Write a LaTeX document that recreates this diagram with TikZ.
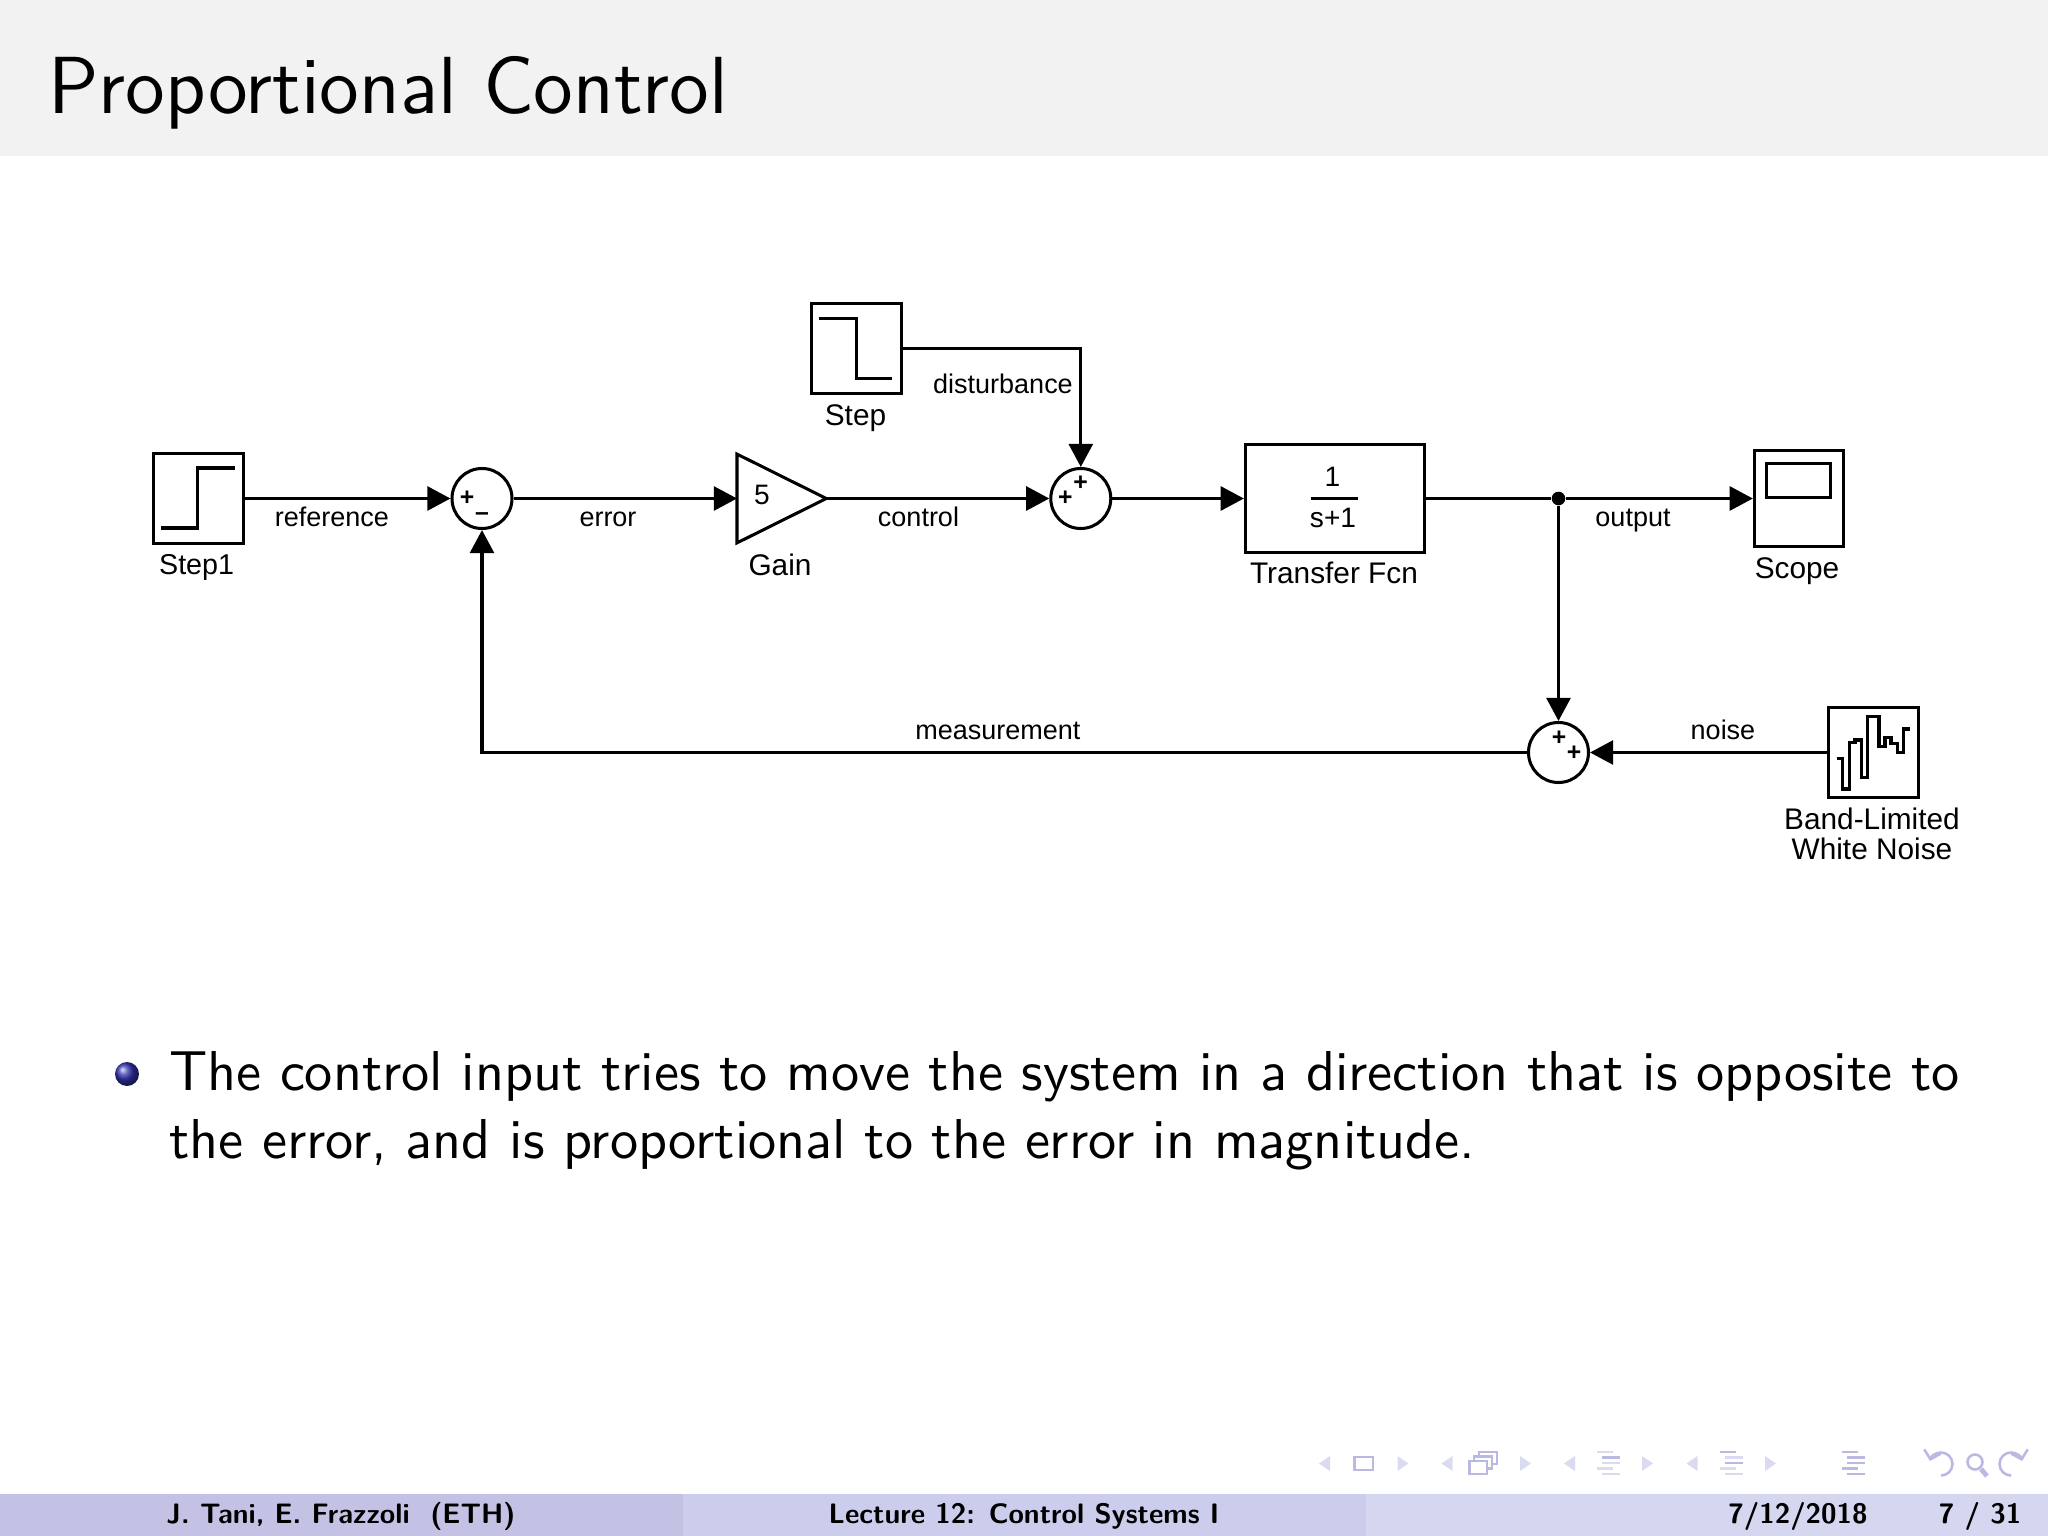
\documentclass[tikz,border=0pt]{standalone}
\usepackage{fontspec}
\usetikzlibrary{arrows.meta,shapes.geometric}
\newfontfamily\blockfont{Liberation Sans}
\definecolor{headgray}{HTML}{F2F2F2}
\definecolor{foota}{HTML}{C3C2E4}
\definecolor{footb}{HTML}{CCCCEC}
\definecolor{footc}{HTML}{D5D6F0}
\definecolor{navlite}{HTML}{DADAF0}
\definecolor{navdark}{HTML}{B9B9E1}
\definecolor{ballblue}{HTML}{3333B2}
\tikzset{
  block/.style={draw,line width=0.19mm,inner sep=0pt,minimum width=5.6mm,minimum height=5.6mm},
  sumnode/.style={draw,circle,line width=0.19mm,inner sep=0pt,minimum size=3.75mm},
  sig/.style={line width=0.19mm},
  sigarrow/.style={sig,-{Triangle[length=1.45mm,width=1.5mm]}},
  lbl/.style={anchor=base,inner sep=0pt,font=\blockfont\fontsize{5.3}{6}\selectfont},
  wirelbl/.style={anchor=base,inner sep=0pt,font=\blockfont\fontsize{4.8}{6}\selectfont},
  sign/.style={inner sep=0pt,font=\blockfont\bfseries\fontsize{4.4}{5}\selectfont},
  footlbl/.style={anchor=base,inner sep=0pt,font=\sffamily\bfseries\fontsize{5}{6}\selectfont},
  navbar/.style={line width=0.16mm},
  navarrow/.style={navbar,-{Straight Barb[length=0.5mm,width=1.05mm]}}
}
\newcommand{\navbars}[6]{%
  \fill[#2] (#1,1450.5) rectangle ++(16,2.6);
  \fill[#3] (#1+5,1456) rectangle ++(18,2.6);
  \fill[#4] (#1+5,1461.5) rectangle ++(18,2.6);
  \fill[#5] (#1,1467) rectangle ++(16,2.6);
  \fill[#6] (#1+5,1472.5) rectangle ++(18,2.6);
}
\begin{document}
\begin{tikzpicture}[x=0.0625mm,y=-0.0625mm]
  \useasboundingbox (0,0) rectangle (2048,1536);
  % slide frame
  \fill[headgray] (0,0) rectangle (2048,156);
  \fill[foota] (0,1494) rectangle (683,1536);
  \fill[footb] (683,1494) rectangle (1366,1536);
  \fill[footc] (1366,1494) rectangle (2048,1536);
  \node[anchor=base west,inner sep=0pt,font=\sffamily\fontsize{14.4}{16}\selectfont] (title) at (47,113) {Proportional Control};
  % blocks
  \node[block] (stepone) at (198.3,498.5) {};
  \node[sumnode] (sumone) at (482,498.5) {};
  \node[draw,isosceles triangle,isosceles triangle stretches,anchor=west,line width=0.19mm,inner sep=0pt,outer sep=0pt,
    minimum width=5.55mm,minimum height=5.58mm] (gain) at (737,498.5) {};
  \node[block] (step) at (856.3,348.5) {};
  \node[sumnode] (sumtwo) at (1080.8,498.5) {};
  \node[block,minimum width=11.2mm,minimum height=6.75mm] (tf) at (1335,498.5) {};
  \node[block,minimum width=5.58mm,minimum height=6mm] (scope) at (1799,498.5) {};
  \node[draw,line width=0.19mm,inner sep=0pt,minimum width=4mm,minimum height=2.1mm] (screen) at (1798.7,480.3) {};
  \node[sumnode] (sumthree) at (1558.5,752.5) {};
  \node[block] (noise) at (1873.5,752.5) {};
  \node[circle,fill,inner sep=0pt,minimum size=0.85mm] (junction) at (1558.5,498.5) {};
  % icons inside the sources
  \draw[sig] (160.8,528) -- (197.5,528) -- (197.5,468) -- (234.7,468);
  \draw[sig] (818.7,318.3) -- (856.7,318.3) -- (856.7,378.3) -- (892.3,378.3);
  \draw[sig] (1836.7,758.3) -- (1842.7,758.3) -- (1842.7,789) -- (1849.3,789) -- (1849.3,742.7) -- (1855,742.7)
    -- (1855,740) -- (1861.7,740) -- (1861.7,777.3) -- (1867.7,777.3) -- (1867.7,716.7) -- (1879,716.7)
    -- (1879,746.7) -- (1885,746.7) -- (1885,737.7) -- (1891,737.7) -- (1891,743.3) -- (1897.3,743.3)
    -- (1897.3,752.7) -- (1903.3,752.7) -- (1903.3,729) -- (1910,729);
  \node[sign] (plusa) at (467,498.3) {+};
  \node[sign] (minusa) at (482,517) {\textendash};
  \node[sign] (plusb) at (1080.7,483.3) {+};
  \node[sign] (plusc) at (1065.3,498.3) {+};
  \node[sign] (plusd) at (1559,738) {+};
  \node[sign] (pluse) at (1574,753) {+};
  \node[anchor=base,inner sep=0pt,font=\blockfont\fontsize{5}{6}\selectfont] (gainval) at (762,504) {5};
  \node[anchor=base,inner sep=0pt,font=\blockfont\fontsize{5}{6}\selectfont] (tfnum) at (1332.5,486) {1};
  \draw[sig] (1311,498.5) -- (1358,498.5);
  \node[anchor=base,inner sep=0pt,font=\blockfont\fontsize{5}{6}\selectfont] (tfden) at (1333,527) {s+1};
  % connectors
  \draw[sigarrow] (stepone) -- (sumone);
  \draw[sigarrow] (sumone) -- (gain.west);
  \draw[sigarrow] (gain.east) -- (sumtwo);
  \draw[sigarrow] (sumtwo) -- (tf);
  \draw[sig] (tf) -- (junction);
  \draw[sigarrow] (junction) -- (scope);
  \draw[sigarrow] (junction) -- (sumthree.north);
  \draw[sigarrow] (step.east) -| (sumtwo.north);
  \draw[sigarrow] (noise) -- (sumthree);
  \draw[sigarrow] (sumthree.west) -| (sumone.south);
  % labels
  \node[lbl,font=\blockfont\fontsize{5.1}{6}\selectfont] (lstepone) at (196.6,574) {Step1};
  \node[lbl] (lgain) at (780,575) {Gain};
  \node[lbl] (lstep) at (855.5,425) {Step};
  \node[lbl] (ltf) at (1334,583) {Transfer Fcn};
  \node[lbl] (lscope) at (1797,578) {Scope};
  \node[lbl] (lnoisea) at (1872,829) {Band-Limited};
  \node[lbl] (lnoiseb) at (1872,859) {White Noise};
  \node[wirelbl] (wref) at (332,526) {reference};
  \node[wirelbl] (werr) at (608,526) {error};
  \node[wirelbl] (wctl) at (918.5,526) {control};
  \node[wirelbl] (wdist) at (1003,393.7) {disturbance};
  \node[wirelbl] (wout) at (1633,526) {output};
  \node[wirelbl] (wnoise) at (1723,739) {noise};
  \node[wirelbl] (wmeas) at (998,739) {measurement};
  % bullet and text
  \node[circle,shading=ball,ball color=ballblue,inner sep=0pt,minimum size=1.5mm] (bullet) at (127,1074) {};
  \node[anchor=north west,inner sep=0pt,text width=111.9mm,align=justify,font=\sffamily\fontsize{10}{12.1}\selectfont] (body) at (168,1050)
    {The control input tries to move the system in a direction that is opposite to\linebreak the error, and is proportional to the error in magnitude.};
  % footer
  \node[footlbl] (fauthor) at (341,1523) {J. Tani, E. Frazzoli\ \ (ETH)};
  \node[footlbl] (flecture) at (1024,1523) {Lecture 12: Control Systems I};
  \node[footlbl] (fdate) at (1798,1523) {7/12/2018};
  \node[footlbl] (fpage) at (1980,1523) {7 / 31};
  % navigation symbols
  \foreach \x in {1319,1441.6,1564,1686.5}
    \fill[navlite] (\x,1463.5) -- (\x+11,1456) -- (\x+11,1471) -- cycle;
  \foreach \x in {1397.5,1520,1642,1765}
    \fill[navlite] (\x+11,1463.5) -- (\x,1456) -- (\x,1471) -- cycle;
  \draw[navdark,navbar] (1354.5,1457) rectangle (1373,1470);
  \draw[navdark,navbar] (1479,1452) rectangle (1497,1464);
  \draw[navdark,navbar,fill=white] (1474,1456.5) rectangle (1492,1468.5);
  \draw[navdark,navbar,fill=white] (1469.5,1461) rectangle (1487,1474);
  \navbars{1597}{navlite}{navdark}{navlite}{navlite}{navlite}
  \navbars{1720}{navdark}{navlite}{navdark}{navlite}{navlite}
  \navbars{1842}{navdark}{navdark}{navdark}{navdark}{navdark}
  \draw[navdark,navarrow] (1941,1475.5) arc (90:-165:11.5);
  \draw[navdark,navbar] (1975,1462) circle (7.5);
  \draw[navdark,line width=0.3mm] (1981,1469) -- (1987,1476);
  \draw[navdark,navarrow] (2011,1475.5) arc (90:345:11.5);
\end{tikzpicture}
\end{document}
